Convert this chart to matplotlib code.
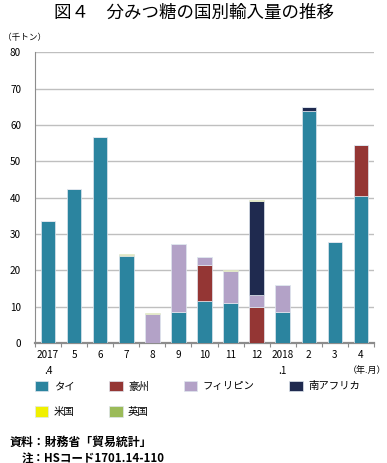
import numpy as np
import matplotlib
matplotlib.use('Agg')
import matplotlib.pyplot as plt

plt.rcParams['font.family'] = ['Noto Sans CJK JP', 'DejaVu Sans']

# data (千トン)
months = ['2017\n.4', '5', '6', '7', '8', '9', '10', '11', '12', '2018\n.1', '2', '3', '4']
thai = [33.5, 42.3, 56.7, 24.0, 0.0, 8.5, 11.5, 11.0, 0.0, 8.5, 63.9, 27.8, 40.6]
australia = [0, 0, 0, 0, 0, 0, 10.0, 0, 10.0, 0, 0, 0, 13.9]
philippines = [0, 0, 0, 0, 8.0, 18.7, 2.1, 8.9, 3.1, 7.4, 0, 0, 0]
south_africa = [0, 0, 0, 0, 0, 0, 0, 0, 26.1, 0, 1.0, 0, 0]
usa = [0, 0, 0, 0.1, 0.2, 0, 0, 0.3, 0.2, 0.2, 0, 0.1, 0]
uk = [0, 0, 0, 0.3, 0, 0, 0, 0, 0, 0, 0, 0, 0]

series = [
    ('タイ', thai, '#2b849f'),
    ('豪州', australia, '#943634'),
    ('フィリピン', philippines, '#b3a2c7'),
    ('南アフリカ', south_africa, '#1f2a4f'),
    ('英国', uk, '#9bbb59'),
    ('米国', usa, '#f0f000'),
]

fig = plt.figure(figsize=(3.87, 4.63), dpi=100)
ax = fig.add_axes([0.0904, 0.259, 0.876, 0.628])

x = np.arange(len(months))
bottom = np.zeros(len(months))
handles = {}
for name, vals, color in series:
    vals = np.array(vals)
    b = ax.bar(x, vals, 0.56, bottom=bottom, color=color,
               edgecolor='#dfe6ee', linewidth=0.5, zorder=3)
    handles[name] = b
    bottom += vals

ax.set_xlim(-0.5, len(months) - 0.5)
ax.set_ylim(0, 80)
ax.set_yticks(range(0, 81, 10))
ax.yaxis.grid(True, color='#bfbfbf', linewidth=1.0, zorder=0)
ax.set_xticks(x)
ax.set_xticklabels(months, fontsize=7.2, linespacing=1.7, va='top')
ax.set_xticks(np.arange(-0.5, len(months), 1), minor=True)
ax.tick_params(axis='x', which='major', length=0, pad=5)
ax.tick_params(axis='x', which='minor', length=3, color='#8c8c8c', width=0.8)
ax.tick_params(axis='y', length=0, labelsize=7.2, pad=10)
for s in ['top', 'right']:
    ax.spines[s].set_visible(False)
ax.spines['left'].set_color('#8c8c8c')
ax.spines['bottom'].set_color('#8c8c8c')
ax.spines['bottom'].set_linewidth(1.6)

fig.text(0.502, 0.972, '図４　分みつ糖の国別輸入量の推移', ha='center', va='center', fontsize=12.6)
fig.text(0.008, 0.92, '（千トン）', ha='left', va='center', fontsize=6.2)
fig.text(0.998, 0.2, '（年.月）', ha='right', va='center', fontsize=6.5)

order = ['タイ', '米国', '豪州', '英国', 'フィリピン', '南アフリカ']
fig.legend([handles[n] for n in order], order, ncol=4, loc='upper left',
           bbox_to_anchor=(0.09, 0.168, 0.84, 0.01), mode='expand',
           frameon=False, fontsize=7.5, handlelength=1.3, handleheight=1.2,
           labelspacing=1.4, handletextpad=0.5, borderaxespad=0, borderpad=0)

fig.text(0.025, 0.045, '資料：財務省「貿易統計」', ha='left', va='center', fontsize=8.6, fontweight='bold')
fig.text(0.055, 0.011, '注：HSコード1701.14-110', ha='left', va='center', fontsize=8.3, fontweight='bold')

fig.savefig('out.png', dpi=100)
